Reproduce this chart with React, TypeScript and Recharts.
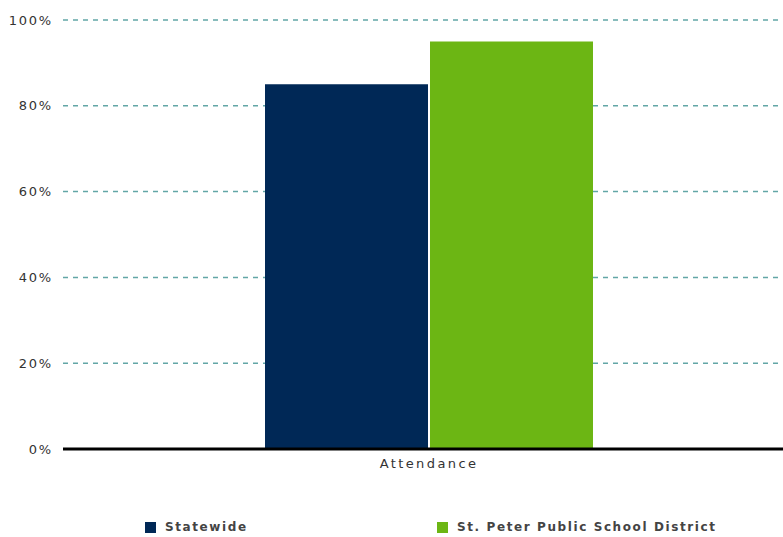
import React from "react";
import { BarChart, Bar, XAxis, YAxis, CartesianGrid, Legend } from "recharts";

const categories = ["Attendance"];
const statewide = [85];
const district = [95];
const yTicks = [0, 20, 40, 60, 80, 100];

const seriesNames = ["Statewide", "St. Peter Public School District"];
const seriesColors = ["#002856", "#6cb614"];

const data = categories.map((c, i) => ({
  name: c,
  statewide: statewide[i],
  district: district[i],
}));

const FONT = "'DejaVu Sans', Verdana, sans-serif";

function LegendContent() {
  const items = [
    { label: seriesNames[0], color: seriesColors[0], left: 145 },
    { label: seriesNames[1], color: seriesColors[1], left: 437 },
  ];
  return (
    <div style={{ position: "relative", width: 783, height: 20 }}>
      {items.map((it) => (
        <div
          key={it.label}
          style={{
            position: "absolute",
            left: it.left,
            top: 0,
            display: "flex",
            alignItems: "center",
            height: 20,
            fontFamily: FONT,
            fontSize: 12,
            fontWeight: "bold",
            letterSpacing: 1.6,
            color: "#444",
            whiteSpace: "nowrap",
          }}
        >
          <span
            style={{
              display: "inline-block",
              width: 11,
              height: 11,
              background: it.color,
              marginRight: 9,
            }}
          />
          {it.label}
        </div>
      ))}
    </div>
  );
}

export default function App() {
  return (
    <div
      style={{
        position: "absolute",
        left: 0,
        top: 0,
        width: 783,
        height: 537,
        overflow: "hidden",
        background: "#fff",
      }}
    >
      <BarChart
        width={795}
        height={537}
        data={data}
        margin={{ top: 20, right: 0, left: 0, bottom: 58 }}
        barGap={2}
      >
        <CartesianGrid
          horizontal={true}
          vertical={false}
          stroke="#62a6a6"
          strokeWidth={1.5}
          strokeDasharray="5 5"
        />
        <XAxis
          dataKey="name"
          height={30}
          tickLine={false}
          tickSize={0}
          tickMargin={10}
          axisLine={{ stroke: "#000", strokeWidth: 3 }}
          tick={{ fontFamily: FONT, fontSize: 13, fill: "#333", letterSpacing: 2.4 }}
        />
        <YAxis
          width={63}
          domain={[0, 100]}
          ticks={yTicks}
          tickFormatter={(v) => `${v}%`}
          axisLine={false}
          tickLine={false}
          tickSize={0}
          tickMargin={10}
          tick={{ fontFamily: FONT, fontSize: 13, fill: "#333", letterSpacing: 1.8 }}
        />
        <Legend
          layout="horizontal"
          verticalAlign="middle"
          align="center"
          wrapperStyle={{ position: "absolute", top: 517, left: 0, width: 783, height: 20 }}
          content={() => <LegendContent />}
        />
        <Bar
          dataKey="statewide"
          name={seriesNames[0]}
          fill={seriesColors[0]}
          barSize={163}
          isAnimationActive={false}
        />
        <Bar
          dataKey="district"
          name={seriesNames[1]}
          fill={seriesColors[1]}
          barSize={163}
          isAnimationActive={false}
        />
      </BarChart>
    </div>
  );
}
